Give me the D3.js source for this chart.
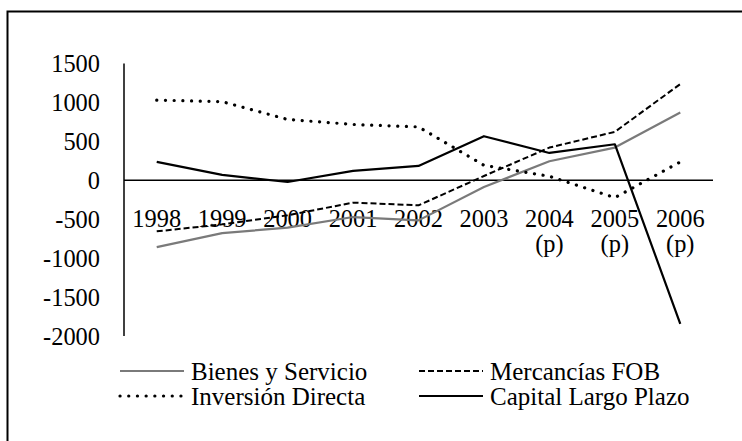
<!DOCTYPE html>
<html><head><meta charset="utf-8">
<script src="https://cdn.jsdelivr.net/npm/d3@7"></script>
<style>html,body{margin:0;padding:0;background:#fff;}svg{display:block;}</style>
</head><body>
<svg id="c" width="742" height="441"></svg>
<script>
const categories = ["1998","1999","2000","2001","2002","2003","2004\n(p)","2005\n(p)","2006\n(p)"];
const bienesServicio = [-858,-678,-609,-472,-515,-86,244,420,871];
const mercanciasFOB = [-656,-566,-450,-287,-322,55,420,622,1236];
const inversionDirecta = [1030,1010,781,717,686,193,51,-223,236];
const capitalLargoPlazo = [236,69,-22,120,184,566,351,463,-1844];
const yTicks = [1500,1000,500,0,-500,-1000,-1500,-2000];

const series = [
  {name:"Bienes y Servicio", values:bienesServicio, color:"#7a7a7a", dash:null, width:2.2, cap:"butt"},
  {name:"Mercancías FOB", values:mercanciasFOB, color:"#000", dash:"6 3", width:2, cap:"butt"},
  {name:"Inversión Directa", values:inversionDirecta, color:"#000", dash:"0.1 8.6", width:3.2, cap:"round"},
  {name:"Capital Largo Plazo", values:capitalLargoPlazo, color:"#000", dash:null, width:2.2, cap:"butt"}
];

const svg = d3.select("#c");
const font = "'Liberation Serif','Times New Roman',serif";

svg.append("rect").attr("x",7.5).attr("y",11.5).attr("width",800).attr("height",500)
  .attr("fill","none").attr("stroke","#000").attr("stroke-width",2);

const x = d3.scaleBand().domain(categories).range([124,713]);
const y = d3.scaleLinear().domain([-2000,1500]).range([336,63.5]);

svg.append("line").attr("x1",124).attr("x2",124).attr("y1",y(1500)).attr("y2",y(-2000))
  .attr("stroke","#000").attr("stroke-width",1.5);
svg.append("g").selectAll("text").data(yTicks).join("text")
  .attr("x",100).attr("y",d=>y(d)).attr("dy","0.35em").attr("text-anchor","end")
  .attr("font-family",font).attr("font-size",24.4).text(d=>d);

svg.append("line").attr("x1",124).attr("x2",713).attr("y1",y(0)).attr("y2",y(0))
  .attr("stroke","#000").attr("stroke-width",1.5);

const xl = svg.append("g").selectAll("text").data(categories).join("text")
  .attr("x",d=>x(d)+x.bandwidth()/2).attr("y",227).attr("text-anchor","middle")
  .attr("font-family",font).attr("font-size",24.4);
xl.each(function(d){
  const parts = d.split("\n");
  const t = d3.select(this);
  parts.forEach((p,i)=>{
    t.append("tspan").attr("x",x(d)+x.bandwidth()/2).attr("dy", i===0?0:25).text(p);
  });
});

const line = d3.line().x((d,i)=>x(categories[i])+x.bandwidth()/2).y(d=>y(d));
series.forEach(s=>{
  svg.append("path").attr("d",line(s.values)).attr("fill","none")
    .attr("stroke",s.color).attr("stroke-width",s.width)
    .attr("stroke-dasharray",s.dash).attr("stroke-linecap",s.cap).attr("stroke-linejoin","round");
});

const legPos = [[120,371],[419,371],[120,396],[419,396]];
series.forEach((s,i)=>{
  const [lx,ly] = legPos[i];
  svg.append("line").attr("x1",lx).attr("x2",lx+64).attr("y1",ly).attr("y2",ly)
    .attr("stroke",s.color).attr("stroke-width",s.width)
    .attr("stroke-dasharray",s.dash).attr("stroke-linecap",s.cap);
  svg.append("text").attr("x",lx+71).attr("y",ly).attr("dy","0.35em")
    .attr("font-family",font).attr("font-size",25).text(s.name);
});
</script>
</body></html>
